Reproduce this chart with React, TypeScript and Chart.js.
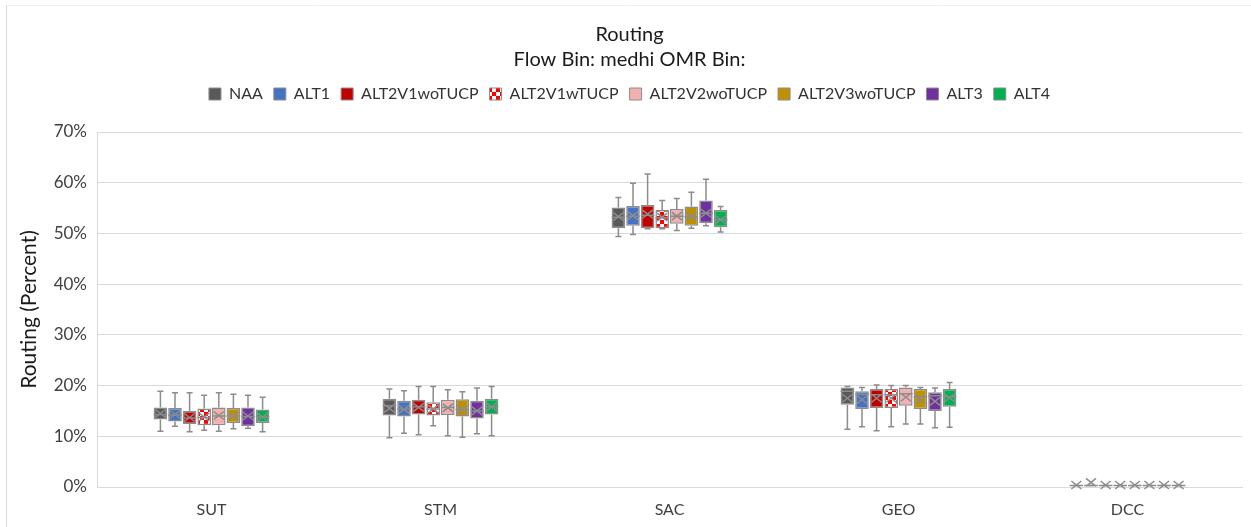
import React, { useEffect, useRef } from 'react';
import { Chart, registerables } from 'chart.js';

Chart.register(...registerables);

const TITLE_LINES = ['Routing', 'Flow Bin: medhi OMR Bin:'];
const Y_TITLE = 'Routing (Percent)';
const CATEGORIES = ['SUT', 'STM', 'SAC', 'GEO', 'DCC'];
const SERIES = ['NAA', 'ALT1', 'ALT2V1woTUCP', 'ALT2V1wTUCP', 'ALT2V2woTUCP', 'ALT2V3woTUCP', 'ALT3', 'ALT4'];
const Y_TICKS = [0, 10, 20, 30, 40, 50, 60, 70];

// per category: [min, q1, median, q3, max, mean] in percent
const NAA = [[11.0, 13.3, 14.3, 15.7, 18.9, 14.5], [9.7, 14.1, 16.0, 17.4, 19.3, 15.5], [49.4, 51.0, 53.2, 55.1, 57.1, 53.3], [11.4, 16.2, 18.9, 19.6, 19.8, 17.5], [0.3, 0.3, 0.3, 0.3, 0.3, 0.4]];
const ALT1 = [[12.0, 12.9, 14.2, 15.6, 18.6, 14.3], [10.6, 13.9, 15.4, 17.0, 19.0, 15.3], [49.8, 51.5, 53.4, 55.4, 59.9, 53.5], [11.9, 15.4, 18.3, 18.9, 19.6, 17.2], [0.3, 0.3, 0.3, 0.3, 0.3, 0.9]];
const ALT2V1woTUCP = [[10.9, 12.4, 13.6, 15.0, 18.6, 13.7], [10.3, 14.3, 15.8, 17.2, 19.8, 15.7], [50.9, 51.0, 53.6, 55.6, 61.7, 53.8], [11.1, 15.6, 18.2, 19.3, 20.1, 17.5], [0.3, 0.3, 0.3, 0.3, 0.3, 0.4]];
const ALT2V1wTUCP = [[11.2, 12.2, 13.7, 15.5, 18.1, 13.8], [12.1, 14.1, 15.4, 16.7, 19.8, 15.4], [50.9, 51.0, 53.1, 54.6, 56.5, 53.2], [11.9, 15.6, 18.2, 19.3, 20.0, 17.5], [0.3, 0.3, 0.3, 0.3, 0.3, 0.4]];
const ALT2V2woTUCP = [[11.0, 12.2, 14.0, 15.7, 18.6, 14.1], [10.1, 14.2, 15.7, 17.2, 19.2, 15.6], [50.6, 51.9, 53.4, 54.8, 56.9, 53.4], [12.4, 16.0, 18.4, 19.6, 20.0, 17.7], [0.3, 0.3, 0.3, 0.3, 0.3, 0.4]];
const ALT2V3woTUCP = [[11.5, 12.6, 14.0, 15.6, 18.3, 14.0], [9.8, 13.9, 15.3, 17.3, 18.8, 15.3], [51.0, 51.5, 53.3, 55.3, 58.1, 53.4], [12.4, 15.4, 17.8, 19.3, 19.6, 17.3], [0.3, 0.3, 0.3, 0.3, 0.3, 0.4]];
const ALT3 = [[11.6, 12.0, 13.9, 15.7, 18.1, 14.0], [10.5, 13.5, 15.0, 17.0, 19.5, 15.0], [51.5, 52.0, 54.0, 56.5, 60.7, 54.0], [11.7, 15.0, 18.0, 18.7, 19.5, 16.9], [0.3, 0.3, 0.3, 0.3, 0.3, 0.4]];
const ALT4 = [[10.9, 12.6, 13.8, 15.3, 17.7, 13.8], [10.1, 14.3, 15.8, 17.4, 19.8, 15.8], [50.3, 51.2, 52.7, 54.6, 55.3, 52.7], [11.8, 15.8, 17.8, 19.3, 20.6, 17.6], [0.3, 0.3, 0.3, 0.3, 0.3, 0.4]];

const SERIES_STATS = [NAA, ALT1, ALT2V1woTUCP, ALT2V1wTUCP, ALT2V2woTUCP, ALT2V3woTUCP, ALT3, ALT4];
const COLORS = ['#595959', '#4472C4', '#C00000', 'checker', '#F4AFAF', '#BF9000', '#7030A0', '#00B050'];

const FONT = 'Lato, "Open Sans", sans-serif';
const GREY = '#8C8C8C';

function makeChecker(): CanvasPattern | string {
  const c = document.createElement('canvas');
  c.width = 8;
  c.height = 8;
  const g = c.getContext('2d');
  if (!g) return '#FF0000';
  g.fillStyle = '#FFFFFF';
  g.fillRect(0, 0, 8, 8);
  g.fillStyle = '#FF0000';
  g.fillRect(0, 0, 4, 4);
  g.fillRect(4, 4, 4, 4);
  const p = g.createPattern(c, 'repeat');
  return p || '#FF0000';
}

const legendSpacePlugin = {
  id: 'legendSpace',
  beforeInit(chart: any) {
    const legend = chart.legend;
    if (!legend) return;
    const origFit = legend.fit;
    legend.fit = function () {
      origFit.call(this);
      this.height = 57;
    };
  },
};

const boxPlugin = {
  id: 'boxWhiskers',
  beforeDatasetsDraw(chart: any) {
    const ctx = chart.ctx;
    const y = chart.scales.y;
    ctx.save();
    ctx.strokeStyle = GREY;
    ctx.lineWidth = 1.5;
    chart.data.datasets.forEach((ds: any, di: number) => {
      const meta = chart.getDatasetMeta(di);
      if (meta.hidden) return;
      meta.data.forEach((el: any, i: number) => {
        const s = ds.stats[i];
        const x = el.x;
        const cap = 3;
        const yMin = y.getPixelForValue(s[0]);
        const yQ1 = y.getPixelForValue(s[1]);
        const yQ3 = y.getPixelForValue(s[3]);
        const yMax = y.getPixelForValue(s[4]);
        ctx.beginPath();
        ctx.moveTo(x, yQ3);
        ctx.lineTo(x, yMax);
        ctx.moveTo(x - cap, yMax);
        ctx.lineTo(x + cap, yMax);
        ctx.moveTo(x, yQ1);
        ctx.lineTo(x, yMin);
        ctx.moveTo(x - cap, yMin);
        ctx.lineTo(x + cap, yMin);
        ctx.stroke();
      });
    });
    ctx.restore();
  },
  afterDatasetsDraw(chart: any) {
    const ctx = chart.ctx;
    const y = chart.scales.y;
    ctx.save();
    ctx.strokeStyle = GREY;
    ctx.lineWidth = 1.5;
    chart.data.datasets.forEach((ds: any, di: number) => {
      const meta = chart.getDatasetMeta(di);
      if (meta.hidden) return;
      meta.data.forEach((el: any, i: number) => {
        const s = ds.stats[i];
        const x = el.x;
        const hw = el.width / 2;
        const yMed = y.getPixelForValue(s[2]);
        const yMean = y.getPixelForValue(s[5]);
        ctx.beginPath();
        ctx.moveTo(x - hw, yMed);
        ctx.lineTo(x + hw, yMed);
        const mx = 5;
        const my = 4;
        ctx.moveTo(x - mx, yMean - my);
        ctx.lineTo(x + mx, yMean + my);
        ctx.moveTo(x - mx, yMean + my);
        ctx.lineTo(x + mx, yMean - my);
        ctx.stroke();
      });
    });
    ctx.restore();
  },
};

const framePlugin = {
  id: 'frame',
  beforeDraw(chart: any) {
    const ctx = chart.ctx;
    ctx.save();
    ctx.fillStyle = '#FFFFFF';
    ctx.fillRect(0, 0, chart.width, chart.height);
    ctx.strokeStyle = '#D9D9D9';
    ctx.lineWidth = 1;
    ctx.beginPath();
    ctx.moveTo(6.5, 5);
    ctx.lineTo(6.5, chart.height);
    ctx.stroke();
    ctx.strokeStyle = '#F0F0F0';
    ctx.beginPath();
    ctx.moveTo(6.5, 5.5);
    ctx.lineTo(chart.width, 5.5);
    ctx.stroke();
    ctx.restore();
  },
};

export default function App() {
  const ref = useRef<HTMLCanvasElement | null>(null);

  useEffect(() => {
    if (!ref.current) return;
    const checker = makeChecker();
    const datasets = SERIES.map((name, si) => ({
      label: name,
      data: SERIES_STATS[si].map((s) => [s[1], s[3]]),
      stats: SERIES_STATS[si],
      backgroundColor: COLORS[si] === 'checker' ? checker : COLORS[si],
      borderColor: GREY,
      borderWidth: 1.5,
      borderSkipped: false,
      categoryPercentage: 0.51,
      barPercentage: 0.93,
    }));

    const chart = new Chart(ref.current, {
      type: 'bar',
      data: { labels: CATEGORIES, datasets: datasets as any },
      plugins: [framePlugin, legendSpacePlugin, boxPlugin],
      options: {
        animation: false,
        responsive: false,
        maintainAspectRatio: false,
        layout: { padding: { left: 17, right: 9, top: 22, bottom: 6 } },
        plugins: {
          title: {
            display: true,
            text: TITLE_LINES,
            color: '#1A1A1A',
            font: { family: FONT, size: 20, weight: 'normal', lineHeight: 1.25 },
            padding: { top: 0, bottom: 3 },
          },
          legend: {
            display: true,
            position: 'top',
            labels: {
              color: '#333333',
              font: { family: FONT, size: 16 },
              boxWidth: 12,
              boxHeight: 12,
              padding: 11,
              generateLabels: (chart: any) =>
                chart.data.datasets.map((ds: any, i: number) => ({
                  text: ds.label,
                  fillStyle: ds.backgroundColor,
                  strokeStyle: GREY,
                  lineWidth: 1,
                  hidden: false,
                  datasetIndex: i,
                  fontColor: '#333333',
                })),
            },
          },
          tooltip: { enabled: false },
        },
        scales: {
          x: {
            afterFit: (scale: any) => {
              scale.height = 34;
            },
            grid: { display: false, drawTicks: false },
            border: { display: true, color: '#D9D9D9', width: 1 },
            ticks: { color: '#404040', font: { family: FONT, size: 16 }, padding: 13 },
          },
          y: {
            min: 0,
            max: 70,
            afterBuildTicks: (scale: any) => {
              scale.ticks = Y_TICKS.map((v) => ({ value: v }));
            },
            afterFit: (scale: any) => {
              scale.width = 80;
            },
            grid: { color: '#D9D9D9', drawTicks: false },
            border: { display: true, color: '#D9D9D9' },
            ticks: {
              color: '#404040',
              font: { family: FONT, size: 17 },
              padding: 10,
              callback: (v: any) => v + '%',
            },
            title: {
              display: true,
              text: Y_TITLE,
              color: '#1A1A1A',
              font: { family: FONT, size: 21 },
              padding: { top: 0, bottom: 4 },
            },
          },
        },
      },
    });
    return () => chart.destroy();
  }, []);

  return (
    <div style={{ position: 'fixed', left: 0, top: 0, width: 1251, height: 527, background: '#fff' }}>
      <canvas ref={ref} width={1251} height={527} style={{ display: 'block' }} />
    </div>
  );
}
